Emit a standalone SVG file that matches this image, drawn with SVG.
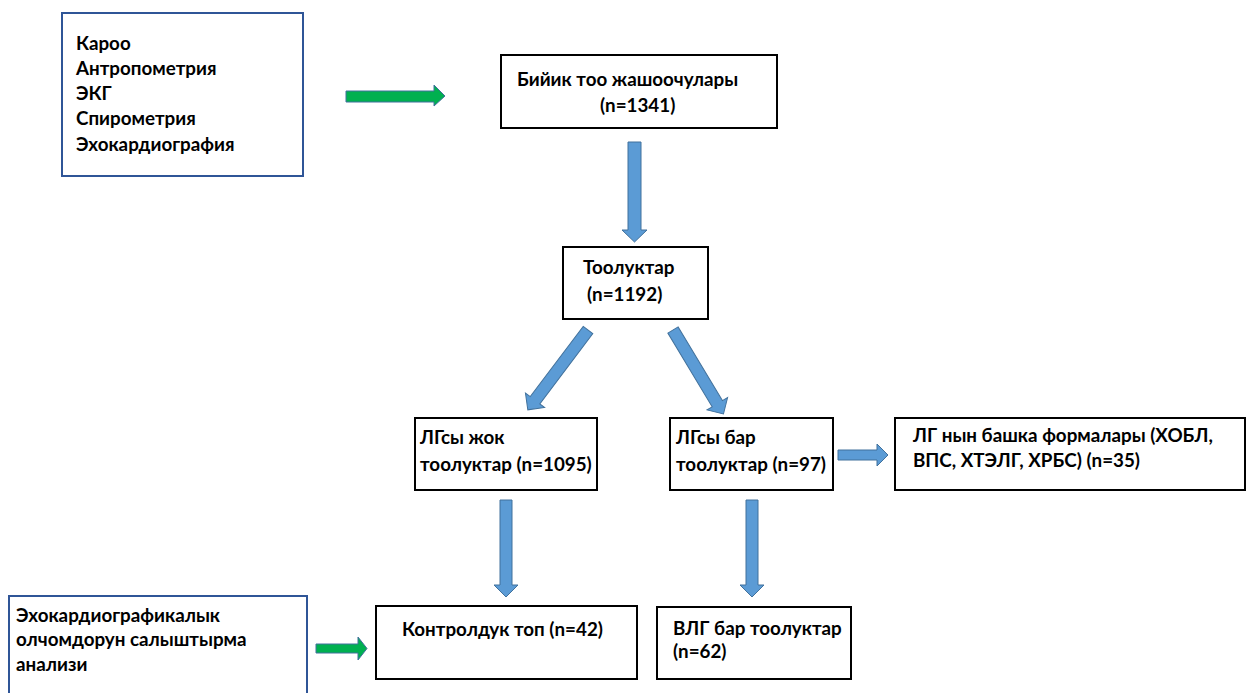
<svg xmlns="http://www.w3.org/2000/svg" width="1247" height="693" viewBox="0 0 1247 693">
<style>
.box{fill:#fff;stroke:#000;stroke-width:2}
.bbox{fill:#fff;stroke:#2f5597;stroke-width:2}
text{font-family:Lato,"Open Sans","Liberation Sans",sans-serif;font-weight:bold;font-size:18.8px;fill:#000}
.blue{fill:#5b9bd5;stroke:#41719c;stroke-width:1}
.green{fill:#00b050;stroke:#41719c;stroke-width:1}
</style>
<rect width="1247" height="693" fill="#fff"/>
<g id="connectors">
<path class="green" d="M346,91 H434 V85 L445,96 L434,106 V102 H346 Z"/>
<path class="blue" d="M628,142 H641 V230 H647 L634.5,242 L622,230 H628 Z"/>
<path class="blue" transform="translate(588,330) rotate(37)" d="M-6,0 H6 V88 H12 L0,100 L-12,88 H-6 Z"/>
<path class="blue" transform="translate(673,330) rotate(-31)" d="M-6,0 H6 V86 H12 L0,98 L-12,86 H-6 Z"/>
<path class="blue" d="M838,450 H877 V444 L888,455 L877,466 V460 H838 Z"/>
<path class="blue" d="M500,500 H512 V585 H518 L506,597 L494,585 H500 Z"/>
<path class="blue" d="M746,500 H758 V585 H764 L752,597 L740,585 H746 Z"/>
<path class="green" d="M316,644 H358 V637 L367,648.5 L358,660 V653 H316 Z"/>
</g>
<g id="n_methods">
<rect class="bbox" x="62" y="13" width="241" height="163"/>
<text x="76" y="50">Кароо</text>
<text x="76" y="75">Антропометрия</text>
<text x="76" y="100">ЭКГ</text>
<text x="76" y="125">Спирометрия</text>
<text x="76" y="151">Эхокардиография</text>
</g>
<g id="n_residents">
<rect class="box" x="501" y="55" width="276" height="73"/>
<text x="517" y="86">Бийик тоо жашоочулары</text>
<text x="600" y="112">(n=1341)</text>
</g>
<g id="n_natives">
<rect class="box" x="563" y="247" width="145" height="72"/>
<text x="583" y="274">Тоолуктар</text>
<text x="587" y="301">(n=1192)</text>
</g>
<g id="n_nolg">
<rect class="box" x="415" y="418" width="182" height="72"/>
<text x="420" y="444">ЛГсы жок</text>
<text x="420" y="471">тоолуктар (n=1095)</text>
</g>
<g id="n_lg">
<rect class="box" x="670" y="418" width="163" height="72"/>
<text x="676" y="444">ЛГсы бар</text>
<text x="676" y="471">тоолуктар (n=97)</text>
</g>
<g id="n_other">
<rect class="box" x="895" y="418" width="350" height="72"/>
<text x="913" y="442">ЛГ нын башка формалары (ХОБЛ,</text>
<text x="913" y="467">ВПС, ХТЭЛГ, ХРБС) (n=35)</text>
</g>
<g id="n_echo">
<rect class="bbox" x="9" y="596" width="298" height="100"/>
<text x="16" y="622">Эхокардиографикалык</text>
<text x="16" y="646">олчомдорун салыштырма</text>
<text x="16" y="671">анализи</text>
</g>
<g id="n_control">
<rect class="box" x="376" y="606" width="261" height="73"/>
<text x="402" y="636">Контролдук топ (n=42)</text>
</g>
<g id="n_hlg">
<rect class="box" x="657" y="607" width="194" height="72"/>
<text x="673" y="635">ВЛГ бар тоолуктар</text>
<text x="673" y="658">(n=62)</text>
</g>
</svg>
